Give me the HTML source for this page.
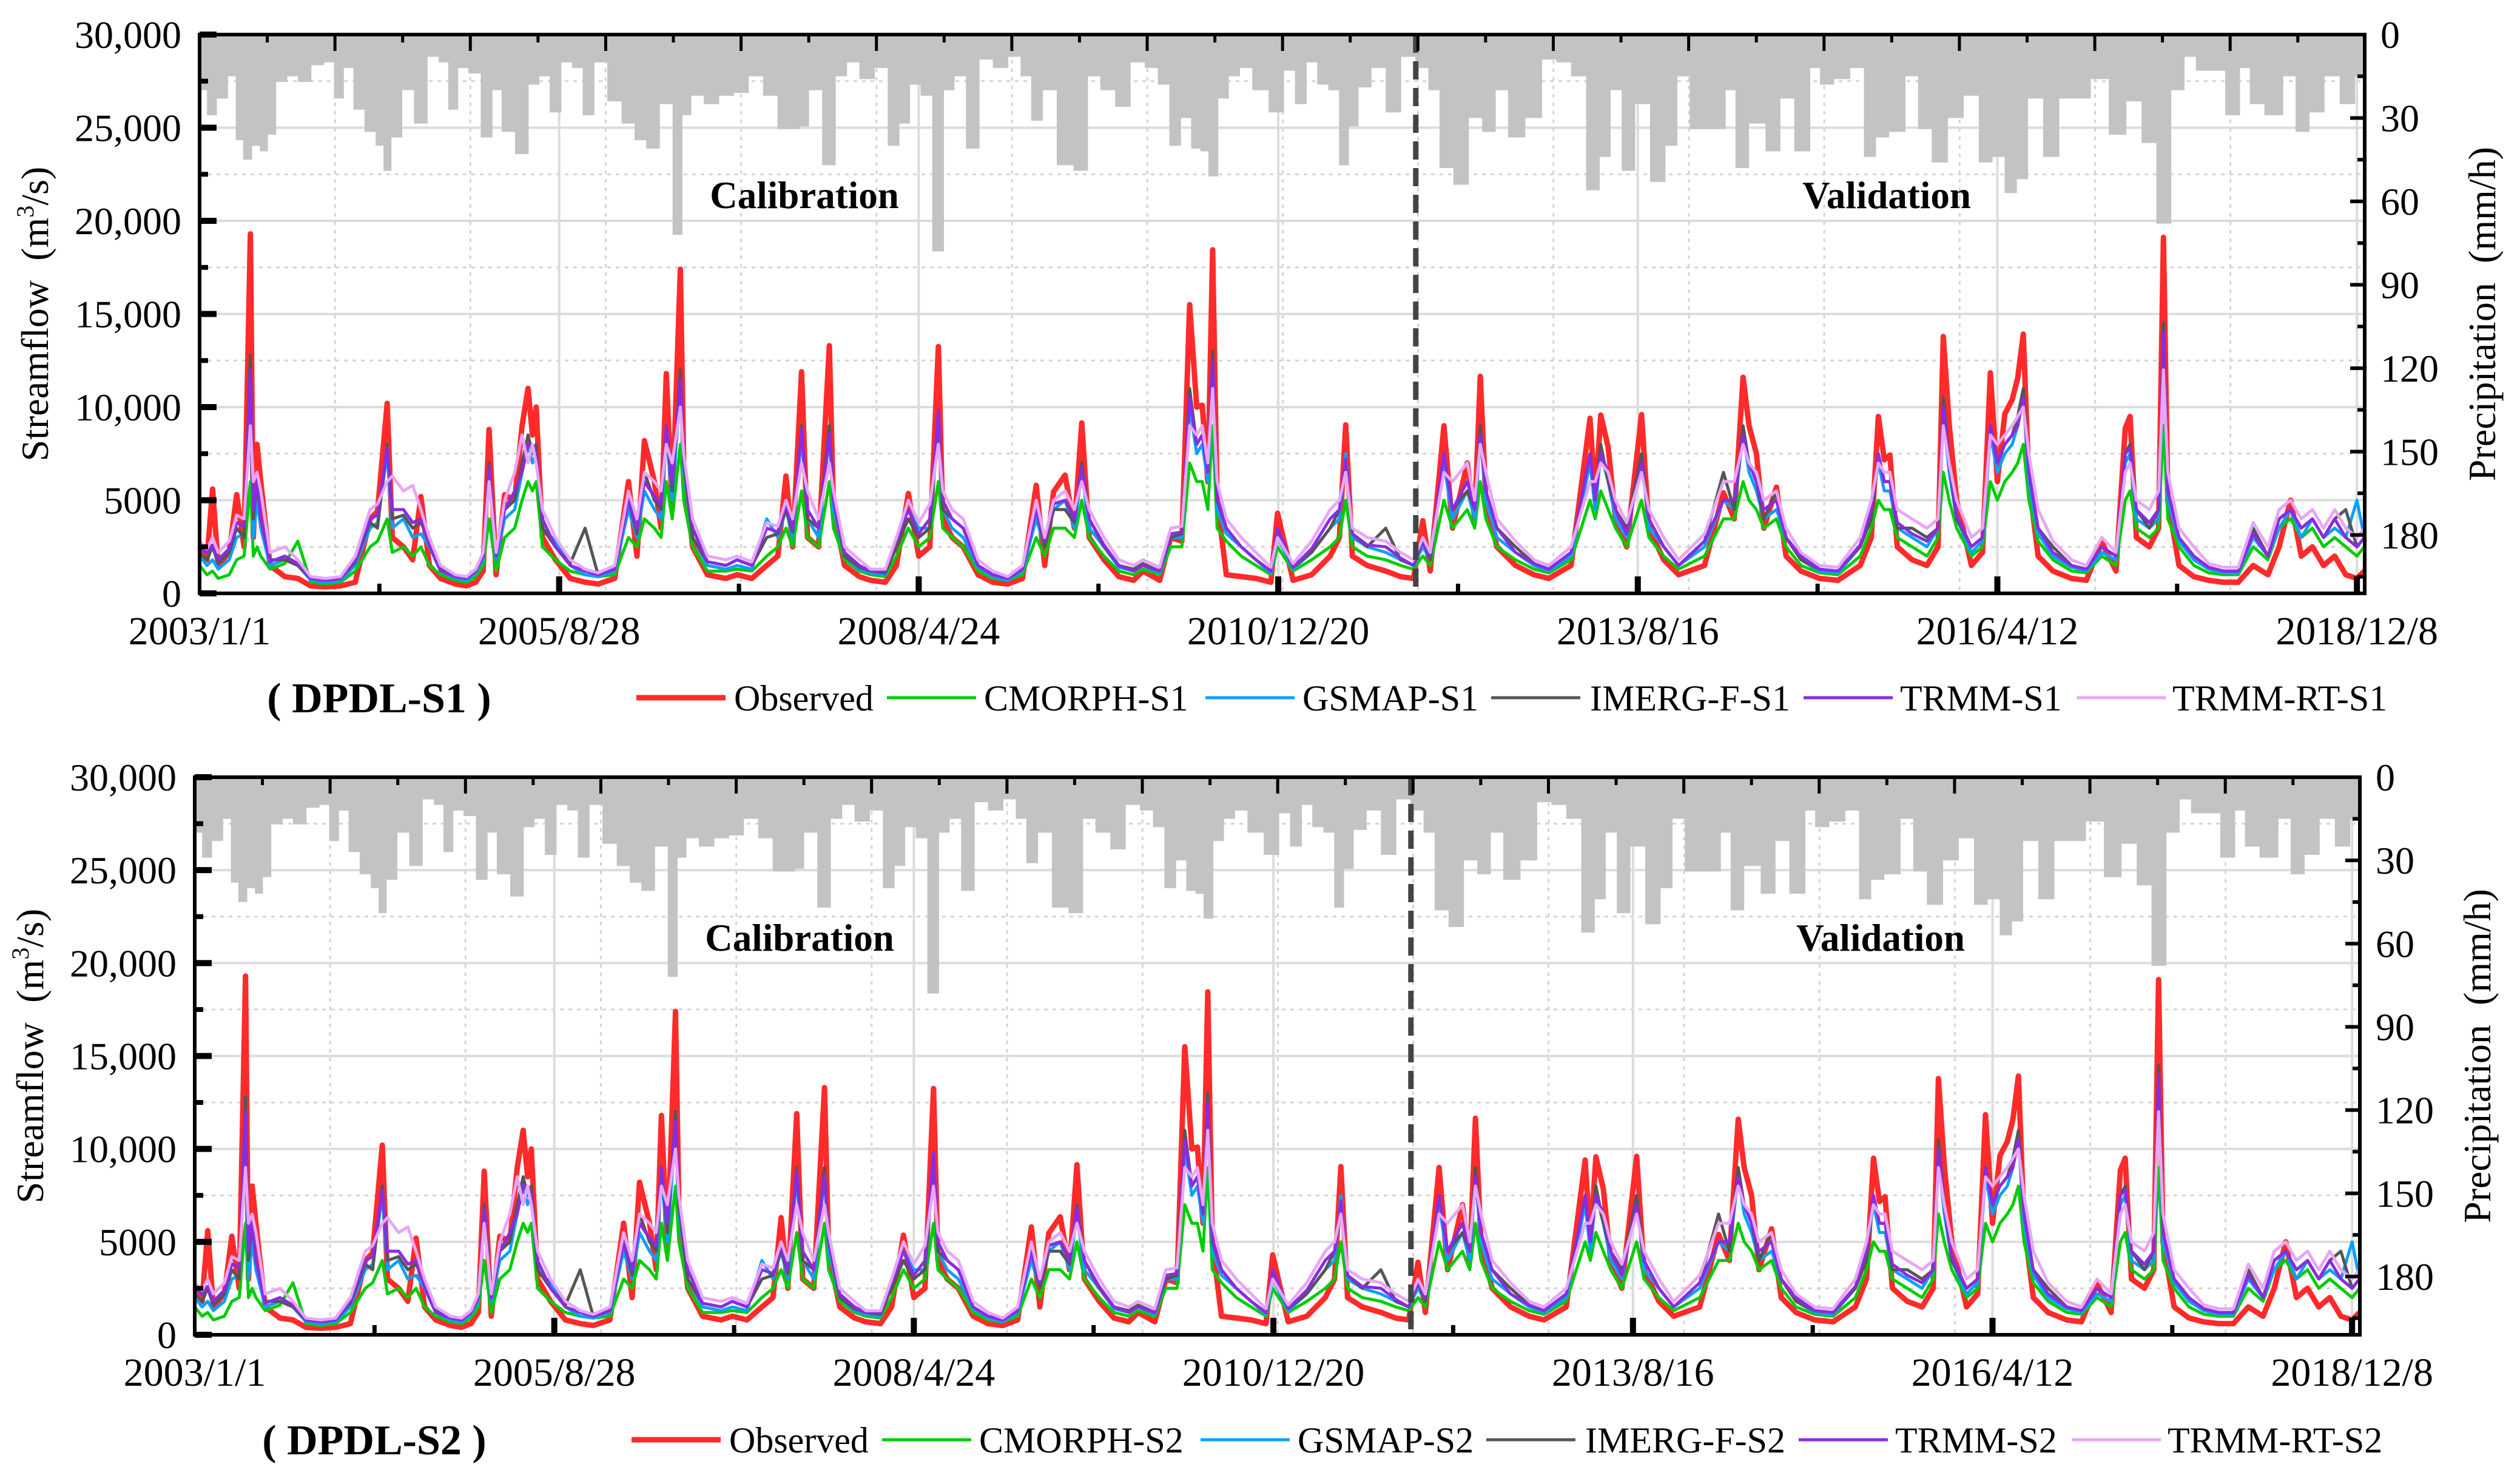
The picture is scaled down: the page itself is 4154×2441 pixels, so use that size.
<!DOCTYPE html>
<html><head><meta charset="utf-8"><style>
html,body{margin:0;padding:0;background:#fff;}
svg, svg text, svg tspan{font-family:"Liberation Serif","Times New Roman",Times,"DejaVu Serif",serif !important;}
</style></head><body>
<svg id="chart" xmlns="http://www.w3.org/2000/svg" width="4154" height="2436" viewBox="0 0 4154 2436">
<rect x="0" y="0" width="4154" height="2436" fill="#fff"/>
</svg>
<script>
// ---------- data ----------
const days = [
0,20,35,50,80,100,120,137,145,155,165,190,230,265,300,340,
380,420,460,480,506,520,550,575,597,620,650,690,720,
745,765,781,800,823,850,870,886,898,908,925,960,1000,1040,1075,
1120,1157,1180,1200,1227,1245,1259,1275,1297,1306,1330,1370,1420,1450,
1490,1530,1560,1582,1600,1624,1640,1670,1699,1710,1740,1780,1810,
1850,1880,1912,1940,1970,1993,2005,2030,2060,2100,2140,2180,
2220,2257,2280,2304,2335,2360,2380,2400,2440,2480,2520,2545,
2590,2620,2650,2671,2690,2705,2720,2733,2745,2770,2810,2850,2890,2908,
2950,3000,3050,3075,3092,3110,3150,3200,3240,3275,
3300,3320,3357,3380,3420,3440,3455,3470,3500,3550,3600,3640,
3700,3751,3765,3780,3800,3820,3850,3890,3910,3950,3990,
4060,4111,4140,4164,4180,4200,4220,4254,4280,4320,4370,
4420,4480,4510,4529,4545,4560,4580,4620,4660,4690,4704,4720,4740,
4780,4810,4831,4850,4870,4890,4905,4920,4935,4960,5000,5050,5090,
5132,5170,5195,5208,5225,5260,5285,5298,5310,5340,5380,5420,5460,
5500,5540,5580,5610,5641,5670,5700,5730,5760,5790,5820,5840];
const observed = [
2500,1800,5600,1500,2200,5300,2500,19300,3000,8000,6000,1500,900,800,400,350,
400,600,4000,4400,10200,3000,2500,1800,5200,1500,800,500,400,
600,1200,8800,1000,5300,5000,9000,11000,8500,10000,3000,1800,800,600,500,
800,6000,2000,8200,6000,3500,11800,4500,17400,7000,2500,1000,800,1000,
800,1500,2000,6300,2500,11900,3000,2500,13300,4500,1500,900,700,
600,1500,5360,2000,2500,13250,4000,3000,2500,1000,600,500,
800,5800,1500,5460,6350,3500,9150,3000,1800,900,700,1200,
700,3000,2800,15500,10000,10100,6000,18450,5000,1000,900,800,600,4300,
700,1000,2000,3000,9050,2000,1500,1200,900,800,
3900,1200,9000,3500,7000,4000,11650,5000,2500,1500,1000,800,
1500,9400,5000,9570,7850,4000,2500,9600,3500,1800,1000,
1500,5400,4000,11600,9000,7500,3500,5700,2000,1200,800,
700,1500,3000,9500,7170,7430,2500,1800,1500,2500,13790,9100,5000,
1500,2200,11840,6000,9630,10400,11580,13920,6000,2000,1200,800,700,
2750,1200,8860,9500,3000,2500,3500,19110,5000,1500,900,700,600,
600,1500,1000,2500,5000,2000,2500,1500,2000,1000,800,1200];
const cmorph = [
1500,1000,1200,800,1000,1800,2000,6000,2000,2500,2000,1300,1600,2800,600,500,
600,1200,2500,2800,4000,2200,2500,2000,2500,1500,1000,700,600,
900,1500,4000,1200,3000,3500,5000,6000,5500,6000,2500,1800,1200,1000,900,
1000,3000,2500,4000,3500,3000,6000,4000,8000,5000,2500,1200,1200,1300,
1200,2000,2500,3500,2500,5500,3000,2500,6000,3500,1800,1200,1000,
900,2000,3500,2500,3000,6000,3500,3000,2500,1200,800,700,
1000,3000,2000,3500,3500,3000,5000,3000,2000,1200,1000,1300,
1000,2500,2500,7000,6000,6000,4500,9000,3500,2800,2000,1500,1000,2500,
1200,1800,2500,3000,5000,2500,2000,1800,1500,1300,
2000,1500,5000,3500,4500,3500,6000,4000,2500,1800,1300,1100,
1800,5000,4000,5500,4500,3500,2500,5000,3000,2000,1300,
2000,4000,4000,6000,5000,4500,3500,4000,2500,1500,1100,
1000,2000,3500,5000,4500,4500,3000,2500,2000,3000,6500,5000,3500,
2000,2500,6000,5000,6000,6500,7000,8000,5000,2800,1800,1200,1100,
2000,1500,5000,5500,3500,3000,3500,9000,4000,2500,1500,1100,1000,
1000,2500,1800,3500,4000,3000,3500,2500,3000,2500,2000,2500];
const gsmap = [
2000,1500,1800,1300,1800,3000,3200,11000,3000,5000,3500,1500,1800,1500,700,600,
700,1500,3500,3800,7500,3500,4000,3000,3200,2500,1200,800,700,
1100,1800,6500,1800,4000,4500,6500,8000,7000,7500,3500,2800,1500,1000,900,
1200,4500,3000,5500,4500,4000,8500,5000,11000,6500,3000,1500,1300,1500,
1300,4000,3000,4500,3000,8500,4000,3000,8500,4500,2000,1300,1100,
1000,3000,4500,3500,3500,9000,4500,3500,3000,1400,900,700,
1200,4000,2500,4500,5000,3500,6500,3500,2500,1400,1200,1500,
1100,3000,3000,10000,7500,8000,6000,12000,4500,3200,2500,1800,1100,3000,
1300,2200,3500,4000,7500,3000,2500,2200,1800,1500,
2500,1800,7000,4000,5500,4000,8500,5000,3000,2200,1500,1200,
2000,7000,4500,7500,6000,4000,3000,7500,3500,2500,1500,
2500,5000,4500,8500,6500,5500,4000,4500,3000,1800,1200,
1100,2500,4500,7000,5500,5500,3500,3000,2500,3500,9500,6500,4000,
2200,2800,8500,6500,7500,8000,9000,10500,6000,3200,2000,1400,1200,
2200,1800,7000,7500,4000,3500,4000,13000,5000,2800,1800,1300,1100,
1100,3000,2000,3500,4500,3000,4000,3000,3500,3000,5000,3000];
const imerg = [
2200,1800,2500,1600,2200,3500,3000,12800,4000,6000,4000,1800,1800,1500,800,700,
800,1700,3800,3500,8000,4000,4200,3500,3800,2800,1300,900,800,
1200,2000,7000,2000,4500,5000,7000,8500,7500,8000,3500,2500,1600,3500,1000,
1300,5000,3200,6500,5000,4500,9000,5500,12000,7000,3000,1700,1500,1800,
1500,3000,3200,4500,3300,9000,4000,3500,9000,5000,2000,1400,1200,
1100,2500,4000,3000,3500,9500,4500,4000,3500,1500,1000,800,
1300,4500,2500,4500,4500,3800,7000,4000,2500,1500,1300,1600,
1200,3000,3200,11000,8000,8500,6500,13000,5000,3500,2500,1800,1200,3200,
1400,2200,3500,4500,7000,3200,2500,3500,1800,1500,
2800,1800,7500,4500,5500,4500,9000,5500,3500,2500,1600,1300,
2200,7500,5000,8000,6000,4500,3500,7500,4000,2500,1500,
2800,6500,4500,9000,7000,6000,4000,5500,3000,1800,1300,
1200,2500,4000,7500,6000,6000,3500,3500,3000,3500,10500,7000,4000,
2500,3000,9000,7000,8000,8500,9500,11000,6500,3500,2500,1500,1300,
2500,2000,7500,8000,4500,3500,4500,14500,5500,3000,2000,1400,1200,
1200,3500,2000,4000,4500,3500,4000,3000,4000,4500,2500,3000];
const trmm = [
2400,2200,2600,1800,2400,3800,3600,12000,4500,6200,4000,1700,2000,1600,800,700,
800,1800,4000,4200,7800,4500,4500,3800,4000,2600,1200,900,800,
1200,2000,6800,2000,4500,5500,6500,8000,8000,7500,4000,2500,1500,1200,1000,
1300,5000,3500,6000,5200,4800,9000,6000,11500,7500,3500,1700,1500,1800,
1500,3500,3300,4800,3500,8800,4500,3500,8600,5000,2200,1500,1200,
1200,2800,4500,3200,4000,9800,5000,4000,3500,1500,1000,800,
1300,4500,2800,4800,5000,4000,6800,4000,2600,1500,1200,1500,
1200,3200,3300,10500,8000,8500,6500,12500,5200,3500,2500,1800,1200,3500,
1400,2400,4000,4500,7200,3200,2600,2500,1900,1500,
2800,2000,7500,4500,6000,4500,8500,5500,3500,2200,1600,1300,
2200,7500,5000,7500,6500,4500,3200,7000,4000,2500,1500,
2800,5000,5000,8500,7000,6000,4500,5000,3000,2000,1300,
1200,2600,4500,7500,6000,6000,3800,3200,2800,3500,10000,7000,4200,
2500,3000,9000,7000,8000,8500,9000,10500,6500,3500,2200,1500,1300,
2500,2000,7500,7800,4500,3800,4500,14000,5500,3000,2000,1400,1200,
1200,3200,2000,4000,4500,3500,4000,3000,4000,3000,2500,3000];
const trmmRT = [
2800,2400,3000,2200,2800,4200,4000,9000,6000,6500,5500,2200,2500,1800,900,800,
900,2000,4500,4800,6000,6300,5500,5800,4500,3000,1500,1000,900,
1300,2200,6000,2200,5000,6500,8500,7000,8000,7000,4500,3000,1800,1300,1100,
1500,5500,4000,6500,6000,5500,8000,7000,10000,7500,4000,2000,1800,2000,
1700,3800,3600,5000,4000,7000,5500,4000,7000,5500,2500,1800,1300,
1300,3000,5000,3800,4800,8000,5500,4500,4000,1800,1200,900,
1500,5000,3000,5000,5500,4500,6000,4500,3000,1800,1500,1800,
1400,3500,3600,9000,8500,9000,7000,11000,6000,4000,3000,2200,1400,3000,
1600,2800,4500,5000,6500,3500,3000,2800,2200,1800,
3000,2200,6500,6000,7000,5000,8000,6500,4000,2800,1800,1500,
2500,6000,6000,7000,6500,5000,3800,6500,4500,3000,1800,
3200,6000,6000,8000,7000,6500,5000,5500,3500,2200,1500,
1400,3000,5000,7000,6500,6500,4500,4000,3500,4000,9000,7000,5000,
3000,3500,8500,8000,8500,9000,9500,10000,7500,4500,2800,1800,1500,
3000,2200,6500,7000,5000,4500,5500,12000,6500,3500,2500,1600,1400,
1400,3800,2500,4500,5000,4000,4500,3500,4500,3500,3000,3500];
const precipDays = [10,30,60,90,105,130,150,175,190,220,250,280,320,350,375,400,430,460,490,502,530,560,597,630,660,682,710,740,777,800,830,872,900,930,959,990,1020,1047,1080,1120,1157,1190,1220,1260,1292,1310,1340,1380,1420,1460,1500,1540,1578,1610,1625,1660,1699,1730,1760,1800,1840,1873,1900,1930,1960,1993,2020,2050,2085,2120,2160,2200,2230,2257,2290,2335,2380,2410,2450,2490,2530,2570,2600,2632,2660,2690,2710,2733,2760,2790,2820,2860,2908,2940,2970,3000,3030,3060,3088,3110,3140,3180,3220,3260,3300,3330,3360,3405,3440,3480,3510,3550,3600,3640,3680,3720,3761,3790,3820,3853,3890,3936,3970,4000,4040,4101,4130,4157,4200,4249,4277,4327,4360,4383,4433,4470,4510,4532,4581,4620,4652,4694,4736,4779,4821,4850,4889,4913,4949,4998,5033,5075,5126,5175,5218,5260,5298,5337,5370,5401,5443,5486,5520,5542,5599,5640,5669,5712,5750,5797,5830];
const precipMM = [20,29,23,15,38,45,40,42,36,17,15,17,11,10,23,12,27,35,40,49,37,20,32,8,10,27,12,14,37,20,35,43,18,15,28,10,12,29,10,24,32,38,41,25,72,29,22,25,22,21,15,22,34,34,33,20,47,15,10,16,12,40,32,18,22,78,20,15,41,9,12,8,15,31,20,47,49,15,20,26,10,12,18,40,30,41,42,51,23,15,12,20,28,13,25,10,18,20,47,33,19,12,28,8,12,20,48,54,30,35,20,37,30,9,10,15,56,44,20,49,25,53,40,15,34,34,20,48,32,42,23,42,12,18,16,12,44,37,35,15,34,46,30,22,46,44,57,52,23,44,23,23,16,36,24,39,68,20,8,13,13,29,12,25,29,15,35,28,15,25,15];
const yTickVals = [0,5000,10000,15000,20000,25000,30000];
const yTickLabels = ["0","5000","10,000","15,000","20,000","25,000","30,000"];
const pTickVals = [0,30,60,90,120,150,180];
const xTickDays = [0,970,1940,2910,3880,4850,5820];
const xTickLabels = ["2003/1/1","2005/8/28","2008/4/24","2010/12/20","2013/8/16","2016/4/12","2018/12/8"];
const splitDay = 3281;

// ---------- drawing ----------
const NS = "http://www.w3.org/2000/svg";
const FONT = "'Liberation Serif', 'Times New Roman', Times, serif";
const svg = document.getElementById("chart");
function mk(tag, attrs, parent){
  const el = document.createElementNS(NS, tag);
  for (const k in attrs) el.setAttribute(k, attrs[k]);
  (parent || svg).appendChild(el);
  return el;
}
function txt(str, attrs, parent){
  const el = mk("text", attrs, parent);
  el.style.fontFamily = FONT;
  el.textContent = str;
  return el;
}

const seriesDefs = [
  {vals: observed, color: "#ff2a2a", w: 9, key: "observed", label: "Observed"},
  {vals: cmorph, color: "#00cc00", w: 5, key: "cmorph", label: "CMORPH"},
  {vals: gsmap, color: "#0aa0ff", w: 5, key: "gsmap", label: "GSMAP"},
  {vals: imerg, color: "#555555", w: 5, key: "imerg", label: "IMERG-F"},
  {vals: trmm, color: "#8a2be2", w: 5, key: "trmm", label: "TRMM"},
  {vals: trmmRT, color: "#e8a6f5", w: 5, key: "trmm-rt", label: "TRMM-RT"}
];
const legendPos = [[1049,1210],[1462,1622],[1987,2147],[2458,2621],[2973,3132],[3423,3581]];

function drawPanel(P){
  const g = mk("g", {});
  
  
  const DMAX = 5841;
  const x = d => P.L + d * (P.R - P.L) / DMAX;
  const y = v => P.B - v * (P.B - P.T) / 30000;
  const py = mm => P.T + mm * (P.B - P.T) / 201;

  for (let v = 2500; v < 30000; v += 2500) {
    const major = v % 5000 === 0;
    const gl = mk("line", {x1:P.L, x2:P.R, y1:y(v), y2:y(v), stroke: major ? "#dcdcdc" : "#d4d4d4", "stroke-width": major ? 4 : 3, "stroke-dasharray": major ? "" : "6 8"}, g);
    
    
  }
  for (let yr = 1; yr < 16; yr++) {
    const d = yr * 365.25;
    const gl = mk("line", {x1:x(d), x2:x(d), y1:P.T, y2:P.B, stroke:"#d4d4d4", "stroke-width":3, "stroke-dasharray":"6 8"}, g);
    
    
  }
  for (let i = 1; i < xTickDays.length; i++) {
    const gl = mk("line", {x1:x(xTickDays[i]), x2:x(xTickDays[i]), y1:P.T, y2:P.B, stroke:"#dcdcdc", "stroke-width":4}, g);
    
    
  }

  const pg = mk("g", {fill:"#c3c3c3"}, g);
  
  
  for (let i = 0; i < precipDays.length; i++) {
    const d0 = i === 0 ? 0 : (precipDays[i-1] + precipDays[i]) / 2;
    const d1 = i === precipDays.length - 1 ? DMAX : (precipDays[i] + precipDays[i+1]) / 2;
    const xa = x(d0), xb = x(d1);
    const r = mk("rect", {x: xa, y: P.T, width: Math.max(6, xb - xa + 1), height: py(precipMM[i]) - P.T}, pg);
    
    
  }

  seriesDefs.forEach(s => {
    const pts = days.map((d, i) => x(d).toFixed(1) + "," + y(s.vals[i]).toFixed(1)).join(" ");
    const pl = mk("polyline", {points: pts, fill:"none", stroke: s.color, "stroke-width": s.w, "stroke-linejoin":"round"}, g);
    
    
  });

  const sl = mk("line", {x1:x(splitDay), x2:x(splitDay), y1:P.T, y2:P.B, stroke:"#444", "stroke-width":9, "stroke-dasharray":"30 14"}, g);
  
  

  const t1 = txt("Calibration", {x: P.calX, y: P.labY, "font-size": 63, "font-weight": "bold", "text-anchor": "middle"}, g);
  
  
  const t2 = txt("Validation", {x: P.valX, y: P.labY, "font-size": 63, "font-weight": "bold", "text-anchor": "middle"}, g);
  
  

  const fr = mk("rect", {x:P.L, y:P.T, width:P.R-P.L, height:P.B-P.T, fill:"none", stroke:"#000", "stroke-width":6}, g);
  
  

  for (let v = 0; v <= 30000; v += 2500) {
    const major = v % 5000 === 0;
    const tk = mk("line", {x1:P.L, x2:P.L + (major ? 28 : 14), y1:y(v), y2:y(v), stroke:"#000", "stroke-width": major ? 10 : 8}, g);
    
    
  }
  yTickVals.forEach((v, i) => {
    const t = txt(yTickLabels[i], {x: P.L - 30, y: y(v) + 22, "font-size": 64, "text-anchor": "end"}, g);
    
    
  });
  for (let mm = 0; mm <= 195; mm += 15) {
    const major = mm % 30 === 0;
    const tk = mk("line", {x1:P.R, x2:P.R - (major ? 24 : 12), y1:py(mm), y2:py(mm), stroke:"#000", "stroke-width": 6}, g);
    
    
  }
  pTickVals.forEach(mm => {
    const t = txt(String(mm), {x: P.R + 26, y: py(mm) + 22, "font-size": 64}, g);
    
    
  });
  for (let k = 1; k < 32; k++) {
    const d = k * 182.6;
    const major = k % 2 === 0;
    const tk = mk("line", {x1:x(d), x2:x(d), y1:P.T, y2:P.T + (major ? 27 : 13), stroke:"#000", "stroke-width": 5}, g);
    
    
  }
  for (let k = 1; k < 13; k++) {
    const d = k * 485;
    const major = k % 2 === 0;
    const tk = mk("line", {x1:x(d), x2:x(d), y1:P.B, y2:P.B - (major ? 28 : 16), stroke:"#000", "stroke-width": major ? 10 : 7}, g);
    
    
  }
  xTickDays.forEach((d, i) => {
    const t = txt(xTickLabels[i], {x: x(d), y: P.B + 84, "font-size": 66, "text-anchor": "middle"}, g);
    
    
  });

  const cy = (P.T + P.B) / 2;
  const yt = mk("text", {x: 0, y: 0, "font-size": 64, "text-anchor": "middle", transform: `translate(${P.L - 250},${cy}) rotate(-90)`}, g);
  yt.style.fontFamily = FONT;
  
  
  yt.innerHTML = 'Streamflow&#160;&#160;(m<tspan font-size="40" dy="-24">3</tspan><tspan dy="24">/s)</tspan>';
  const pt = txt("Precipitation\u00a0\u00a0(mm/h)", {x: 0, y: 0, "font-size": 64, "text-anchor": "middle", transform: `translate(${P.R + 215},${cy}) rotate(-90)`}, g);
  
  

  const lt = txt("( DPDL-" + P.sfx + " )", {x: P.nameX, y: P.legY + 24, "font-size": 70, "font-weight": "bold", "text-anchor": "middle"}, g);
  
  
  seriesDefs.forEach((s, i) => {
    const lg = mk("g", {}, g);
    
    
    const lx = legendPos[i][0] + P.legShift, tx = legendPos[i][1] + P.legShift;
    mk("line", {x1: lx, x2: lx + 147, y1: P.legY, y2: P.legY, stroke: s.color, "stroke-width": i === 0 ? 9 : 5}, lg);
    const label = i === 0 ? "Observed" : s.label + "-" + P.sfx;
    txt(label, {x: tx, y: P.legY + 21, "font-size": 60}, lg);
  });
}

drawPanel({L:329, R:3898, T:57, B:978, sfx:"S1", calX:1326, valX:3110, labY:343, legY:1150, legShift:0, nameX:625});
drawPanel({L:321, R:3890, T:1281, B:2200, sfx:"S2", calX:1318, valX:3100, labY:1567, legY:2373, legShift:-8, nameX:617});
</script>
</body></html>
